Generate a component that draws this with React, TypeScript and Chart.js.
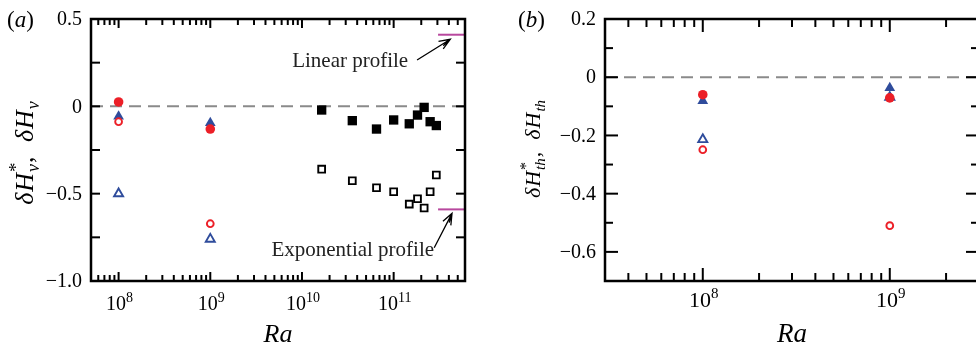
import React, { useEffect, useRef } from "react";
import { Chart, registerables } from "chart.js";
Chart.register(...registerables);

const FONT = '"Liberation Serif", "Times New Roman", serif';
const RED = "#ec1f27";
const BLUE = "#2f4c9c";
const MAGENTA = "#b8489e";
const GRAY = "#8a8a8a";

// ---------- Panel (a) data ----------
const raA = [1e8, 1e9];
const aRedFilled = [0.025, -0.13];
const aRedOpen = [-0.088, -0.672];
const aBlueFilled = [-0.058, -0.095];
const aBlueOpen = [-0.5, -0.76];
const raDNS = [1.64e10, 3.54e10, 6.5e10, 1.0e11, 1.48e11, 1.82e11, 2.15e11, 2.5e11, 2.92e11];
const aBlackFilled = [-0.021, -0.082, -0.13, -0.078, -0.1, -0.05, -0.006, -0.088, -0.11];
const aBlackOpen = [-0.36, -0.426, -0.466, -0.489, -0.56, -0.529, -0.582, -0.489, -0.393];
const profileRa = [3.05e11, 6e11];
const linearProfile = [0.41, 0.41];
const exponentialProfile = [-0.59, -0.59];
const aXRange = [5e7, 6e11];
const aYRange = [-1, 0.5];
const aYTicks = [-1, -0.75, -0.5, -0.25, 0, 0.25, 0.5];
const aYLabels = ["\u22121.0", "", "\u22120.5", "", "0", "", "0.5"];
const aXDecades = [8, 9, 10, 11];

// ---------- Panel (b) data ----------
const raB = [1e8, 1e9];
const bRedFilled = [-0.06, -0.071];
const bRedOpen = [-0.249, -0.51];
const bBlueFilled = [-0.081, -0.037];
const bBlueOpen = [-0.214, -0.069];
const bXRange = [3e7, 3e9];
const bYRange = [-0.7, 0.2];
const bYTicks = [-0.7, -0.6, -0.5, -0.4, -0.3, -0.2, -0.1, 0, 0.1, 0.2];
const bYLabels = ["", "\u22120.6", "", "\u22120.4", "", "\u22120.2", "", "0", "", "0.2"];
const bXDecades = [8, 9];

type Seg = { t: string; it?: boolean; s: number; dy?: number; noAdv?: boolean; gap?: number };

function pts(xs: number[], ys: number[]) {
  return xs.map((x, i) => ({ x, y: ys[i] }));
}

function segFont(sg: Seg) {
  return `${sg.it ? "italic " : ""}${sg.s}px ${FONT}`;
}

function segAdv(ctx: CanvasRenderingContext2D, sg: Seg) {
  if (sg.noAdv) return 0;
  ctx.font = segFont(sg);
  return ctx.measureText(sg.t).width + (sg.gap || 0);
}

function drawRich(ctx: CanvasRenderingContext2D, segs: Seg[], x: number, y: number, align: "left" | "center" | "right") {
  let w = 0;
  for (const sg of segs) w += segAdv(ctx, sg);
  let cx = align === "left" ? x : align === "center" ? x - w / 2 : x - w;
  ctx.textAlign = "left";
  ctx.textBaseline = "alphabetic";
  for (const sg of segs) {
    ctx.font = segFont(sg);
    ctx.fillText(sg.t, cx, y + (sg.dy || 0));
    cx += segAdv(ctx, sg);
  }
}

function arrow(ctx: CanvasRenderingContext2D, x1: number, y1: number, x2: number, y2: number) {
  const a = Math.atan2(y2 - y1, x2 - x1);
  const L = 12;
  const sp = 0.38;
  ctx.beginPath();
  ctx.moveTo(x1, y1);
  ctx.lineTo(x2, y2);
  ctx.moveTo(x2 - L * Math.cos(a - sp), y2 - L * Math.sin(a - sp));
  ctx.lineTo(x2, y2);
  ctx.lineTo(x2 - L * Math.cos(a + sp), y2 - L * Math.sin(a + sp));
  ctx.moveTo(x2 - 0.8 * L * Math.cos(a - 0.18), y2 - 0.8 * L * Math.sin(a - 0.18));
  ctx.lineTo(x2, y2);
  ctx.stroke();
}

type PanelCfg = {
  id: string;
  xRange: number[];
  yTicks: number[];
  yLabels: string[];
  xDecades: number[];
  xMajorLen: number;
  xMinorLen: number;
  yLabLen: number;
  yUnlabLen: number;
  tickSize: number;
  xTickSize: number;
  xLabelDy: number;
  raSize: number;
  raBaseline: number;
  yTitle: Seg[];
  yTitleX: number;
  yTitleY: number;
  panelLabel: Seg[];
  panelLabelX: number;
  extra?: (chart: any) => void;
};

function framePlugin(cfg: PanelCfg) {
  return {
    id: "frame_" + cfg.id,
    afterDatasetsDraw(chart: any) {
      const { ctx, chartArea: ca, scales } = chart;
      const xs = scales.x;
      const ys = scales.y;
      ctx.save();
      ctx.strokeStyle = "#000";
      ctx.fillStyle = "#000";
      ctx.lineWidth = 2;
      const seg = (x1: number, y1: number, x2: number, y2: number) => {
        ctx.beginPath();
        ctx.moveTo(x1, y1);
        ctx.lineTo(x2, y2);
        ctx.stroke();
      };
      const [xmin, xmax] = cfg.xRange;
      const d0 = Math.floor(Math.log10(xmin));
      const d1 = Math.ceil(Math.log10(xmax));
      for (let d = d0; d <= d1; d++) {
        for (let m = 1; m <= 9; m++) {
          const v = m * Math.pow(10, d);
          if (v <= xmin * 1.001 || v >= xmax * 0.999) continue;
          const px = xs.getPixelForValue(v);
          const len = m === 1 ? cfg.xMajorLen : cfg.xMinorLen;
          seg(px, ca.top, px, ca.top + len);
          seg(px, ca.bottom, px, ca.bottom - len);
        }
      }
      cfg.yTicks.forEach((v, i) => {
        const py = ys.getPixelForValue(v);
        if (Math.abs(py - ca.top) > 1 && Math.abs(py - ca.bottom) > 1) {
          const len = cfg.yLabels[i] ? cfg.yLabLen : cfg.yUnlabLen;
          seg(ca.left, py, ca.left + len, py);
          seg(ca.right, py, ca.right - len, py);
        }
      });
      ctx.lineWidth = 2.5;
      ctx.strokeRect(ca.left, ca.top, ca.right - ca.left, ca.bottom - ca.top);
      ctx.font = `${cfg.tickSize}px ${FONT}`;
      ctx.textAlign = "right";
      ctx.textBaseline = "middle";
      cfg.yTicks.forEach((v, i) => {
        if (!cfg.yLabels[i]) return;
        ctx.fillText(cfg.yLabels[i], ca.left - 9, ys.getPixelForValue(v) + 1);
      });
      cfg.xDecades.forEach((d) => {
        const px = xs.getPixelForValue(Math.pow(10, d));
        drawRich(
          ctx,
          [
            { t: "10", s: cfg.xTickSize },
            { t: String(d), s: Math.round(cfg.xTickSize * 0.7), dy: -Math.round(cfg.xTickSize * 0.42) },
          ],
          px + 1,
          ca.bottom + cfg.xLabelDy,
          "center"
        );
      });
      drawRich(ctx, [{ t: "Ra", it: true, s: cfg.raSize }], (ca.left + ca.right) / 2, cfg.raBaseline, "center");
      ctx.save();
      ctx.translate(cfg.yTitleX, cfg.yTitleY);
      ctx.rotate(-Math.PI / 2);
      drawRich(ctx, cfg.yTitle, 0, 0, "center");
      ctx.restore();
      drawRich(ctx, cfg.panelLabel, cfg.panelLabelX, 27, "left");
      if (cfg.extra) cfg.extra(chart);
      ctx.restore();
    },
  };
}

const openStyle = (color: string, style: string, r: number) => ({
  pointStyle: style,
  pointRadius: r,
  pointBorderWidth: 1.9,
  pointBorderColor: color,
  pointBackgroundColor: "#fff",
  showLine: false,
});
const filledStyle = (color: string, style: string, r: number) => ({
  pointStyle: style,
  pointRadius: r,
  pointBorderWidth: 0,
  pointBorderColor: color,
  pointBackgroundColor: color,
  showLine: false,
});
const lineStyle = (color: string, dash: number[], w: number) => ({
  showLine: true,
  pointRadius: 0,
  borderColor: color,
  borderWidth: w,
  borderDash: dash,
  fill: false,
});

function baseOptions(pad: any, xr: number[], yr: number[]) {
  return {
    animation: false,
    responsive: false,
    maintainAspectRatio: false,
    events: [],
    layout: { padding: pad },
    plugins: { legend: { display: false }, tooltip: { enabled: false } },
    scales: {
      x: { type: "logarithmic", min: xr[0], max: xr[1], display: false },
      y: { type: "linear", min: yr[0], max: yr[1], display: false },
    },
  };
}

function titleSegs(s: number, sub: string): Seg[] {
  const ss = Math.round(s * 0.68);
  const sd = Math.round(s * 0.24);
  return [
    { t: "\u03b4", it: true, s, gap: 1 },
    { t: "H", it: true, s, gap: 1 },
    { t: "*", s: Math.round(s * 0.72), dy: -Math.round(s * 0.42), noAdv: true },
    { t: sub, it: true, s: ss, dy: sd, gap: 1 },
    { t: ",", s, gap: s * 0.55 },
    { t: "\u03b4", it: true, s, gap: 1 },
    { t: "H", it: true, s, gap: 1 },
    { t: sub, it: true, s: ss, dy: sd },
  ];
}

export default function App() {
  const refA = useRef<HTMLCanvasElement>(null);
  const refB = useRef<HTMLCanvasElement>(null);

  useEffect(() => {
    document.body.style.margin = "0";
    const cfgA: PanelCfg = {
      id: "a",
      xRange: aXRange,
      yTicks: aYTicks,
      yLabels: aYLabels,
      xDecades: aXDecades,
      xMajorLen: 9,
      xMinorLen: 6,
      yLabLen: 9,
      yUnlabLen: 9,
      tickSize: 20,
      xTickSize: 20,
      xLabelDy: 28.5,
      raSize: 26,
      raBaseline: 342,
      yTitle: titleSegs(26, "v"),
      yTitleX: 33,
      yTitleY: 153,
      panelLabel: [
        { t: "(", s: 23 },
        { t: "a", it: true, s: 23 },
        { t: ")", s: 23 },
      ],
      panelLabelX: 7,
      extra: (chart: any) => {
        const { ctx, scales } = chart;
        const X = (v: number) => scales.x.getPixelForValue(v);
        const Y = (v: number) => scales.y.getPixelForValue(v);
        ctx.fillStyle = "#222";
        drawRich(ctx, [{ t: "Linear profile", s: 21 }], X(1.44e11), Y(0.227), "right");
        drawRich(ctx, [{ t: "Exponential profile", s: 21 }], X(4.64e9), Y(-0.857), "left");
        ctx.strokeStyle = "#000";
        ctx.lineWidth = 1.3;
        arrow(ctx, X(1.8e11), Y(0.265), X(4.15e11), Y(0.384));
        arrow(ctx, X(2.77e11), Y(-0.81), X(4.33e11), Y(-0.613));
      },
    };
    const cfgB: PanelCfg = {
      id: "b",
      xRange: bXRange,
      yTicks: bYTicks,
      yLabels: bYLabels,
      xDecades: bXDecades,
      xMajorLen: 13,
      xMinorLen: 8,
      yLabLen: 13,
      yUnlabLen: 8,
      tickSize: 20,
      xTickSize: 22,
      xLabelDy: 26,
      raSize: 27,
      raBaseline: 342,
      yTitle: titleSegs(22, "th"),
      yTitleX: 50,
      yTitleY: 149,
      panelLabel: [
        { t: "(", s: 23 },
        { t: "b", it: true, s: 23 },
        { t: ")", s: 23 },
      ],
      panelLabelX: 28,
    };

    const chartA = new Chart(refA.current as HTMLCanvasElement, {
      type: "scatter",
      data: {
        datasets: [
          { data: pts(raA, aRedFilled), ...filledStyle(RED, "circle", 4.8) },
          { data: pts(raA, aRedOpen), ...openStyle(RED, "circle", 3.4) },
          { data: pts(raA, aBlueFilled), ...filledStyle(BLUE, "triangle", 6.2) },
          { data: pts(raA, aBlueOpen), ...openStyle(BLUE, "triangle", 5.2) },
          { data: pts(raDNS, aBlackFilled), ...filledStyle("#000", "rect", 6.6) },
          { data: pts(raDNS, aBlackOpen), ...openStyle("#000", "rect", 4.8) },
          { data: pts(profileRa, linearProfile), ...lineStyle(MAGENTA, [], 2) },
          { data: pts(profileRa, exponentialProfile), ...lineStyle(MAGENTA, [], 2) },
          { data: pts(aXRange, [0, 0]), ...lineStyle(GRAY, [12, 7], 2) },
        ] as any,
      },
      options: baseOptions({ left: 91, top: 19, right: 25, bottom: 66 }, aXRange, aYRange) as any,
      plugins: [framePlugin(cfgA)],
    });

    const chartB = new Chart(refB.current as HTMLCanvasElement, {
      type: "scatter",
      data: {
        datasets: [
          { data: pts(raB, bRedFilled), ...filledStyle(RED, "circle", 4.8) },
          { data: pts(raB, bRedOpen), ...openStyle(RED, "circle", 3.4) },
          { data: pts(raB, bBlueFilled), ...filledStyle(BLUE, "triangle", 6.2) },
          { data: pts(raB, bBlueOpen), ...openStyle(BLUE, "triangle", 5.2) },
          { data: pts(bXRange, [0, 0]), ...lineStyle(GRAY, [12, 7], 2) },
        ] as any,
      },
      options: baseOptions({ left: 115, top: 19, right: 11, bottom: 66 }, bXRange, bYRange) as any,
      plugins: [framePlugin(cfgB)],
    });

    return () => {
      chartA.destroy();
      chartB.destroy();
    };
  }, []);

  return (
    <div style={{ position: "relative", width: 976, height: 347, overflow: "hidden", background: "#fff" }}>
      <canvas ref={refA} width={490} height={347} style={{ position: "absolute", left: 0, top: 0, width: 490, height: 347 }} />
      <canvas ref={refB} width={500} height={347} style={{ position: "absolute", left: 490, top: 0, width: 500, height: 347 }} />
    </div>
  );
}
